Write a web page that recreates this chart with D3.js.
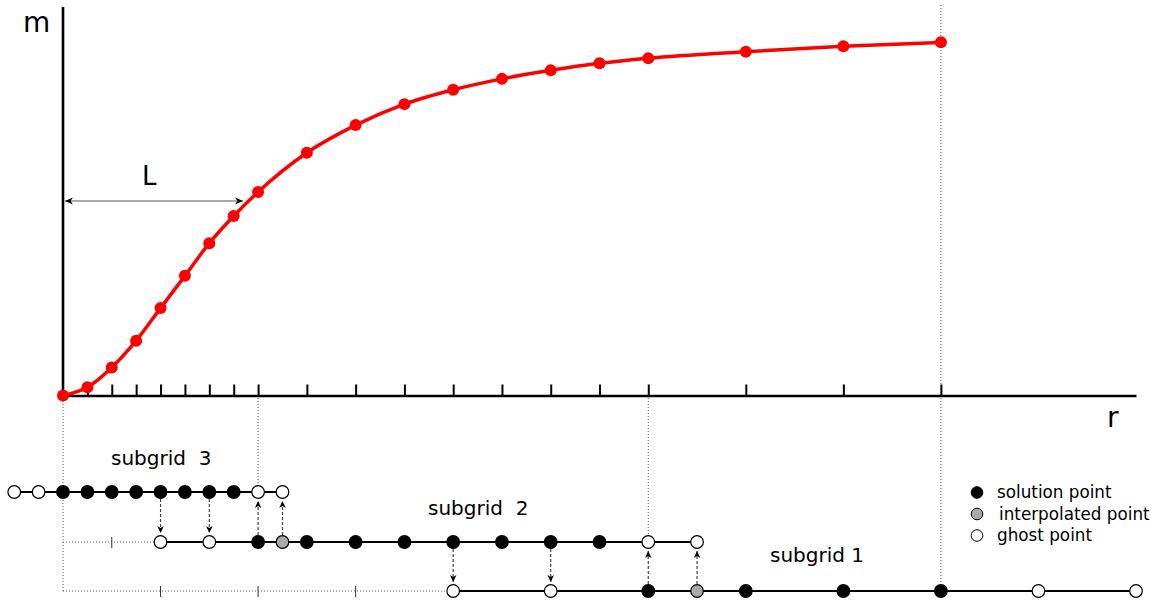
<!DOCTYPE html>
<html>
<head>
<meta charset="utf-8">
<script src="https://cdn.jsdelivr.net/npm/d3@7"></script>
<style>
  body { margin: 0; background: #fff; }
  svg { display: block; font-family: "DejaVu Sans", sans-serif; }
  text { white-space: pre; }
</style>
</head>
<body>
<div id="chart"></div>
<script>
// profile m(r) (m normalised to the axis height)
var rPoints = [0, 1, 2, 3, 4, 5, 6, 7, 8, 10, 12, 14, 16, 18, 20, 22, 24, 28, 32, 36];
var mValues = [0, 0.021, 0.072, 0.141, 0.225, 0.308, 0.392, 0.462, 0.524, 0.625, 0.696,
               0.750, 0.787, 0.815, 0.837, 0.855, 0.868, 0.885, 0.899, 0.909];
var tickR = [1, 2, 3, 4, 5, 6, 7, 8, 10, 12, 14, 16, 18, 20, 22, 24, 28, 32, 36];

// subgrids: s = solution, i = interpolated, g = ghost
var sub3R    = [-2, -1, 0, 1, 2, 3, 4, 5, 6, 7, 8, 9];
var sub3Type = ["g", "g", "s", "s", "s", "s", "s", "s", "s", "s", "g", "g"];
var sub2R    = [4, 6, 8, 9, 10, 12, 14, 16, 18, 20, 22, 24, 26];
var sub2Type = ["g", "g", "s", "i", "s", "s", "s", "s", "s", "s", "s", "g", "g"];
var sub1R    = [16, 20, 24, 26, 28, 32, 36, 40, 44];
var sub1Type = ["g", "g", "s", "i", "s", "s", "s", "g", "g"];

var downArrows3to2 = [4, 6];
var upArrows2to3 = [8, 9];
var downArrows2to1 = [16, 20];
var upArrows1to2 = [24, 26];

var legendLabels = ["solution point", "interpolated point", "ghost point"];
var legendTypes = ["s", "i", "g"];

var svgWidth = 1159;
var svgHeight = 600;

var svg = d3.select("#chart")
    .append("svg")
    .attr("width", svgWidth)
    .attr("height", svgHeight);

var xScale = d3.scaleLinear().domain([0, 44]).range([63, 1136]);
var yScale = d3.scaleLinear().domain([0, 1]).range([395.5, 7]);

var rowY = { 3: 492, 2: 542, 1: 591 };
var fillFor = { s: "#000", i: "#aaaaaa", g: "#fff" };

var defs = svg.append("defs");
defs.append("marker")
    .attr("id", "head")
    .attr("viewBox", "-8 -4 9 8")
    .attr("refX", 0)
    .attr("refY", 0)
    .attr("markerWidth", 9)
    .attr("markerHeight", 8)
    .attr("markerUnits", "userSpaceOnUse")
    .attr("orient", "auto-start-reverse")
    .append("path")
    .attr("d", "M0,0 L-8,-3.5 L-5.5,0 L-8,3.5 Z")
    .attr("fill", "#000");

defs.append("marker")
    .attr("id", "smallhead")
    .attr("viewBox", "-7 -4 8 8")
    .attr("refX", 0)
    .attr("refY", 0)
    .attr("markerWidth", 8)
    .attr("markerHeight", 8)
    .attr("markerUnits", "userSpaceOnUse")
    .attr("orient", "auto")
    .append("path")
    .attr("d", "M0,0 L-7,-3.3 L-5,0 L-7,3.3 Z")
    .attr("fill", "#000");

// vertical dotted guides
var guides = [
    { r: 0, y1: 395, y2: 591 },
    { r: 8, y1: 395, y2: 486 },
    { r: 24, y1: 395, y2: 535 },
    { r: 36, y1: 5, y2: 584 }
];
svg.selectAll(".guide")
    .data(guides)
    .enter()
    .append("line")
    .attr("class", "guide")
    .attr("x1", d => xScale(d.r))
    .attr("x2", d => xScale(d.r))
    .attr("y1", d => d.y1)
    .attr("y2", d => d.y2)
    .attr("stroke", "#555")
    .attr("stroke-width", 1)
    .attr("stroke-dasharray", "1,2");

// axes
var xAxis = d3.axisBottom(xScale)
    .tickValues(tickR)
    .tickSizeInner(-11)
    .tickSizeOuter(0)
    .tickFormat("");

var xAxisG = svg.append("g")
    .attr("transform", "translate(0,395.5)")
    .call(xAxis);
xAxisG.select(".domain").attr("stroke", "#000").attr("stroke-width", 2.6);
xAxisG.selectAll(".tick line").attr("stroke", "#000").attr("stroke-width", 2);

svg.append("line")
    .attr("x1", xScale(0)).attr("x2", xScale(0))
    .attr("y1", yScale(1)).attr("y2", 396.8)
    .attr("stroke", "#000")
    .attr("stroke-width", 2.6);

// axis labels
svg.append("text").attr("x", 23).attr("y", 32).attr("font-size", 28).text("m");
svg.append("text").attr("x", 1107).attr("y", 427).attr("font-size", 28).text("r");
svg.append("text").attr("x", 142).attr("y", 185).attr("font-size", 26).text("L");

// L arrow
svg.append("line")
    .attr("x1", xScale(0) + 2).attr("x2", 243)
    .attr("y1", 201).attr("y2", 201)
    .attr("stroke", "#555")
    .attr("stroke-width", 1.2)
    .attr("marker-start", "url(#head)")
    .attr("marker-end", "url(#head)");

// the profile curve
var line = d3.line()
    .x(d => xScale(d[0]))
    .y(d => yScale(d[1]))
    .curve(d3.curveMonotoneX);

var profile = rPoints.map((r, i) => [r, mValues[i]]);

svg.append("path")
    .datum(profile)
    .attr("d", line)
    .attr("fill", "none")
    .attr("stroke", "#ff0000")
    .attr("stroke-width", 3.5);

svg.selectAll(".mpoint")
    .data(profile)
    .enter()
    .append("circle")
    .attr("class", "mpoint")
    .attr("cx", d => xScale(d[0]))
    .attr("cy", d => yScale(d[1]))
    .attr("r", 6)
    .attr("fill", "#ff0000");

// dotted left extensions of the coarser subgrids, with small ticks
function dottedExtension(y, rEnd, ticks) {
    svg.append("line")
        .attr("x1", xScale(0)).attr("x2", xScale(rEnd))
        .attr("y1", y).attr("y2", y)
        .attr("stroke", "#555")
        .attr("stroke-width", 1)
        .attr("stroke-dasharray", "1,2");
    svg.selectAll(null)
        .data(ticks)
        .enter()
        .append("line")
        .attr("x1", d => xScale(d)).attr("x2", d => xScale(d))
        .attr("y1", y - 5).attr("y2", y + 6)
        .attr("stroke", "#333")
        .attr("stroke-width", 1);
}
dottedExtension(rowY[2], 4, [2]);
dottedExtension(rowY[1], 16, [4, 8, 12]);

// dashed transfer arrows
function arrows(list, yFrom, yTo) {
    svg.selectAll(null)
        .data(list)
        .enter()
        .append("line")
        .attr("x1", d => xScale(d)).attr("x2", d => xScale(d))
        .attr("y1", yFrom).attr("y2", yTo)
        .attr("stroke", "#444")
        .attr("stroke-width", 1.2)
        .attr("stroke-dasharray", "3,2")
        .attr("marker-end", "url(#smallhead)");
}
arrows(downArrows3to2, rowY[3] + 7, rowY[2] - 9);
arrows(upArrows2to3, rowY[2] - 7, rowY[3] + 9);
arrows(downArrows2to1, rowY[2] + 7, rowY[1] - 9);
arrows(upArrows1to2, rowY[1] - 7, rowY[2] + 9);

// subgrid rows
function drawRow(rs, types, y) {
    svg.append("line")
        .attr("x1", xScale(rs[0])).attr("x2", xScale(rs[rs.length - 1]))
        .attr("y1", y).attr("y2", y)
        .attr("stroke", "#000")
        .attr("stroke-width", 2);
    svg.selectAll(null)
        .data(rs.map((r, i) => ({ r: r, t: types[i] })))
        .enter()
        .append("circle")
        .attr("cx", d => xScale(d.r))
        .attr("cy", y)
        .attr("r", 6.3)
        .attr("fill", d => fillFor[d.t])
        .attr("stroke", "#000")
        .attr("stroke-width", 1.2);
}
drawRow(sub3R, sub3Type, rowY[3]);
drawRow(sub2R, sub2Type, rowY[2]);
drawRow(sub1R, sub1Type, rowY[1]);

svg.append("text").attr("x", 111).attr("y", 465).attr("font-size", 20).text("subgrid  3");
svg.append("text").attr("x", 428).attr("y", 515).attr("font-size", 20).text("subgrid  2");
svg.append("text").attr("x", 770).attr("y", 562).attr("font-size", 20).text("subgrid 1");

// legend
var legend = svg.append("g").attr("transform", "translate(977,492.5)");
legend.selectAll("circle")
    .data(legendTypes)
    .enter()
    .append("circle")
    .attr("cx", 0)
    .attr("cy", (d, i) => i * 21.5)
    .attr("r", 5.8)
    .attr("fill", d => fillFor[d])
    .attr("stroke", "#000")
    .attr("stroke-width", 1);
legend.selectAll("text")
    .data(legendLabels)
    .enter()
    .append("text")
    .attr("x", (d, i) => i === 1 ? 22 : 20)
    .attr("y", (d, i) => i * 21.5 + 5.5)
    .attr("font-size", 16.8)
    .text(d => d);
</script>
</body>
</html>
